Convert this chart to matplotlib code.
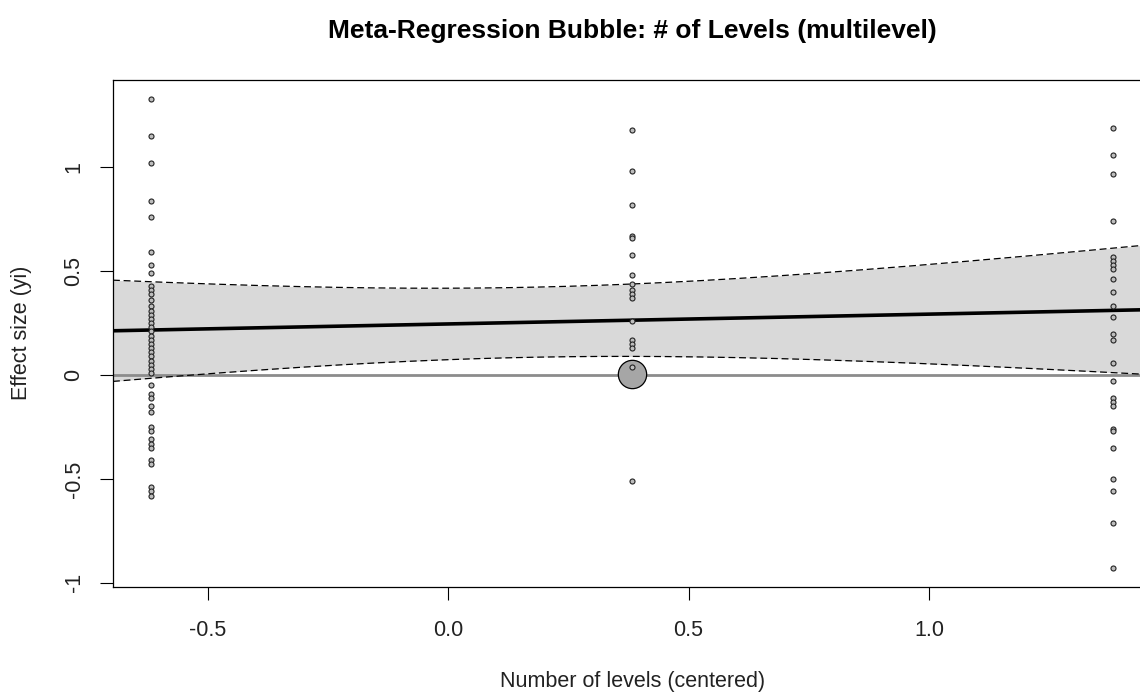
import numpy as np
import matplotlib
matplotlib.use("Agg")
import matplotlib.pyplot as plt

# ---------------- data ----------------
level_x = [-0.617, 0.383, 1.383]   # centered number of levels

yi_level1 = [1.33, 1.15, 1.02, 0.84, 0.76, 0.59, 0.53, 0.49,
             0.43, 0.41, 0.39, 0.36, 0.33, 0.31, 0.29, 0.27, 0.25, 0.23,
             0.21, 0.19, 0.17, 0.15, 0.13, 0.11, 0.09, 0.07, 0.05, 0.03, 0.01,
             -0.05, -0.09, -0.11, -0.15, -0.18, -0.25, -0.27, -0.31, -0.33,
             -0.35, -0.41, -0.43, -0.54, -0.56, -0.58]
yi_level2 = [1.18, 0.98, 0.82, 0.67, 0.66, 0.58, 0.48, 0.44, 0.41, 0.39,
             0.37, 0.26, 0.17, 0.15, 0.13, 0.04, -0.51]
yi_level3 = [1.19, 1.06, 0.97, 0.74, 0.57, 0.55, 0.53, 0.51, 0.46, 0.40,
             0.33, 0.28, 0.20, 0.17, 0.06, -0.03, -0.11, -0.13, -0.15,
             -0.26, -0.27, -0.35, -0.50, -0.56, -0.71, -0.93]

# one heavily weighted study (large bubble)
heavy_x = [0.383]
heavy_yi = [0.005]
heavy_weight_ratio = 32.0   # relative weight vs. a typical study

# meta-regression fit (intercept, slope and their covariance)
b0, b1 = 0.246, 0.0472
var_b0, var_b1, cov_b01 = 0.0077, 0.0108, -0.0018

x_ticks = [-0.5, 0.0, 0.5, 1.0]
x_tick_labels = ["-0.5", "0.0", "0.5", "1.0"]
y_ticks = [-1, -0.5, 0, 0.5, 1]
y_tick_labels = ["-1", "-0.5", "0", "0.5", "1"]

title = "Meta-Regression Bubble: # of Levels (multilevel)"
xlabel = "Number of levels (centered)"
ylabel = "Effect size (yi)"

# ---------------- figure ----------------
plt.rcParams["font.family"] = ["Liberation Sans", "DejaVu Sans"]
W, H, DPI = 1140, 692, 100
fig = plt.figure(figsize=(W / DPI, H / DPI), dpi=DPI)

left_px, right_px, top_px, bottom_px = 113, 1151.6, 80, 587
ax = fig.add_axes([left_px / W, 1 - bottom_px / H,
                   (right_px - left_px) / W, (bottom_px - top_px) / H])

all_x = np.concatenate([np.full(len(yi_level1), level_x[0]),
                        np.full(len(yi_level2), level_x[1]),
                        np.full(len(yi_level3), level_x[2])])
all_y = np.concatenate([yi_level1, yi_level2, yi_level3])

xr = (min(all_x), max(all_x))
yr = (min(all_y), max(all_y))
xpad = 0.04 * (xr[1] - xr[0])
ypad = 0.04 * (yr[1] - yr[0])
xlim = (xr[0] - xpad, xr[1] + xpad)
ylim = (yr[0] - ypad, yr[1] + ypad)

# prediction band
xs = np.linspace(xlim[0], xlim[1], 300)
pred = b0 + b1 * xs
se = np.sqrt(var_b0 + 2 * cov_b01 * xs + var_b1 * xs ** 2)
lo, hi = pred - 1.96 * se, pred + 1.96 * se

ax.fill_between(xs, lo, hi, color="#d9d9d9", lw=0, zorder=1)
ax.axhline(0, color="#8c8c8c", lw=2.0, zorder=2)
ax.plot(xs, hi, color="black", lw=0.9, ls=(0, (5.5, 3)), zorder=3)
ax.plot(xs, lo, color="black", lw=0.9, ls=(0, (5.5, 3)), zorder=3)
ax.plot(xs, pred, color="black", lw=2.6, zorder=3, solid_capstyle="butt")

small_s = 13
ax.scatter(heavy_x, heavy_yi, s=small_s * heavy_weight_ratio, facecolor="#a6a6a6",
           edgecolor="black", linewidth=0.9, zorder=4)
ax.scatter(all_x, all_y, s=small_s, facecolor="#bdbdbd", edgecolor="#222222",
           linewidth=0.8, zorder=5)

ax.set_xlim(*xlim)
ax.set_ylim(*ylim)

ax.set_xticks(x_ticks)
ax.set_xticklabels(x_tick_labels)
ax.set_yticks(y_ticks)
ax.set_yticklabels(y_tick_labels, rotation=90, va="center")

ax.tick_params(axis="both", direction="out", length=9.5, width=0.8,
               labelsize=15.5, color="black", labelcolor="#222222")
ax.tick_params(axis="x", pad=14)
ax.tick_params(axis="y", pad=11)

for s in ["left", "bottom", "top", "right"]:
    ax.spines[s].set_linewidth(0.9)
    ax.spines[s].set_color("black")

fig.text(((left_px + right_px) / 2) / W, 1 - 31 / H, title, ha="center",
         va="center", fontsize=19, fontweight="bold", color="black")
fig.text(((left_px + right_px) / 2) / W, 1 - 681 / H, xlabel, ha="center",
         va="center", fontsize=15.5, color="#222222")
fig.text(22 / W, 1 - 333 / H, ylabel, ha="center", va="center",
         rotation=90, fontsize=15.5, color="#222222")

fig.savefig("out.png", dpi=DPI)
